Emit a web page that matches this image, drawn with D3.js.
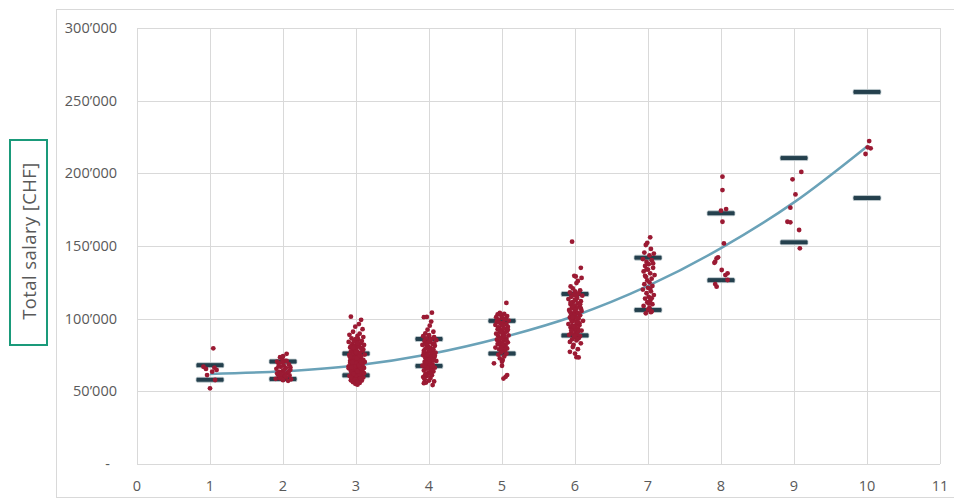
<!DOCTYPE html>
<html>
<head>
<meta charset="utf-8">
<script src="https://cdn.jsdelivr.net/npm/d3@7"></script>
<style>
  body { margin: 0; background: #fff; }
  svg { display: block; font-family: "Open Sans", sans-serif; }
</style>
</head>
<body>
<svg id="chart" width="954" height="501"></svg>
<script>
// salary level (x) and band values in thousand CHF
const levels = [1, 2, 3, 4, 5, 6, 7, 8, 9, 10];
const bandUpper = [68, 70.5, 76, 86, 98.5, 117, 142, 172.5, 210.5, 256];
const bandLower = [58, 58.5, 61, 67.5, 76, 88.5, 106, 126.5, 152.5, 183];
const trend = [62, 63.8, 67.8, 75.5, 87, 102, 122.5, 148.5, 180, 218.5];
const xTicks = [0, 1, 2, 3, 4, 5, 6, 7, 8, 9, 10, 11];
const yTicks = [0, 50, 100, 150, 200, 250, 300];

// employees: [level incl. jitter, salary k CHF]
const lvl1 = [[0.91,66.9],[0.945,65.4],[1.06,66.3],[1.09,64.7],[0.96,61.2],[1.07,57.8],[1.0,52.1],[1.045,79.6],[1.03,63.5]];
const lvl2 = [[1.92,70.5],[1.96,73.5],[2.05,75.8],[1.99,72.2],[2.03,71.0],[1.94,69.4],[2.08,68.6],[2.01,67.8],[1.97,66.9],[2.04,66.2],
  [1.91,65.5],[2.1,64.8],[2.0,64.1],[1.95,63.3],[2.06,62.7],[2.02,62.0],[1.93,61.4],[2.09,60.9],[1.98,60.2],[2.04,59.6],
  [1.96,59.0],[2.11,58.3],[2.0,57.7],[1.9,58.6],[2.07,57.2],[1.99,69.9],[2.05,70.9],[1.94,67.3],[2.02,65.0],[2.08,63.8],
  [1.97,61.8],[2.03,60.5],[1.92,62.4],[2.1,66.6],[2.0,74.2]];
const lvl3 = [[2.93,101.4],[3.07,99.2],[3.04,96.3],[2.99,94.5],[3.09,92.8],[2.96,91.0],[3.05,89.7],[2.91,88.9],[3.02,88.1],[3.1,87.3],
  [2.94,86.5],[3.03,85.9],[2.98,85.2],[3.08,84.6],[2.9,84.0],[3.01,83.5],[3.06,83.0],[2.95,82.4],[3.11,81.9],[2.99,81.3],
  [3.04,80.8],[2.92,80.2],[3.07,79.7],[3.0,79.1],[2.96,78.6],[3.09,78.0],[2.93,77.5],[3.02,77.0],[3.05,76.4],[2.97,75.9],
  [3.12,75.3],[2.91,74.8],[3.0,74.3],[3.06,73.7],[2.95,73.2],[3.03,72.6],[2.99,72.1],[3.1,71.6],[2.92,71.0],[3.04,70.5],
  [2.97,69.9],[3.08,69.4],[3.01,68.9],[2.94,68.3],[3.06,67.8],[2.9,67.2],[3.02,66.7],[3.11,66.1],[2.96,65.6],[3.0,65.1],
  [3.05,64.5],[2.93,64.0],[3.09,63.4],[2.98,62.9],[3.03,62.3],[2.95,61.8],[3.07,61.3],[2.91,60.7],[3.01,60.2],[3.1,59.6],
  [2.97,59.1],[3.04,58.5],[2.94,58.0],[3.08,57.4],[3.0,56.9],[2.96,56.3],[3.05,55.8],[2.99,55.2],[3.02,54.6],[2.93,57.6],
  [3.0,86.0],[2.97,84.3],[3.05,82.8],[2.93,81.0],[3.08,79.4],[3.01,77.8],[2.95,76.2],[3.06,74.6],[2.98,73.0],[3.03,71.3],
  [2.92,69.7],[3.09,68.1],[3.0,66.4],[2.96,64.8],[3.04,63.2],[2.94,61.6],[3.07,60.0],[2.99,58.4],[3.02,56.8],[3.11,62.5],
  [2.9,65.9],[3.12,70.2],[2.91,75.0],[3.1,78.8],[2.98,80.5],[3.03,67.5],[2.95,72.4],[3.06,58.9],[3.0,61.0],[2.97,70.8],
  [3.04,75.6],[3.01,64.2],[2.96,68.6],[3.07,73.9],[2.93,59.8],[3.02,83.1],[3.09,65.3],[2.99,77.1],[3.05,71.9],[2.94,63.7],
  [3.0,69.2],[2.98,66.9],[3.03,74.0],[2.95,70.0],[3.06,66.0],[3.01,72.8],[2.97,62.0],[3.04,68.0],[2.92,73.5],[3.08,71.0],
  [3.0,76.8],[2.96,79.9],[3.05,61.8],[3.02,63.9],[2.94,66.5],[3.07,69.7]];
const lvl4 = [[3.93,101.0],[3.97,101.2],[4.04,104.1],[4.03,98.0],[4.01,95.2],[3.98,92.4],[4.06,91.0],[3.95,89.8],
  [4.0,88.6],[3.92,87.9],[4.07,87.2],[3.96,86.5],[4.03,85.9],[4.1,85.2],[3.94,84.5],[4.01,83.9],[3.98,83.2],[4.05,82.6],
  [3.91,81.9],[4.08,81.3],[3.99,80.6],[4.02,79.9],[3.95,79.3],[4.06,78.7],[3.93,78.0],[4.0,77.4],[4.09,76.7],[3.97,76.1],
  [4.04,75.4],[3.92,74.8],[4.01,74.1],[4.07,73.5],[3.96,72.8],[4.03,72.2],[3.99,71.5],[4.1,70.9],[3.94,70.2],[4.02,69.6],
  [3.98,68.9],[4.05,68.3],[3.91,67.6],[4.0,67.0],[4.08,66.3],[3.96,65.7],[4.03,65.0],[3.93,64.4],[4.06,63.7],[3.99,63.1],
  [4.01,62.4],[3.95,61.8],[4.04,61.1],[3.97,60.5],[3.92,59.8],[4.02,59.2],[3.94,58.3],[4.0,57.4],[3.96,56.0],[3.93,55.6],
  [4.05,54.3],[4.07,56.8],[4.0,84.0],[3.97,80.0],[4.04,77.0],[3.95,73.0],[4.06,71.2],[4.01,69.0],[3.98,66.0],[4.03,64.0],
  [3.93,76.5],[4.08,74.5],[3.99,72.0],[4.02,86.0],[3.96,82.3],[4.05,79.0],[4.0,70.5],[3.94,68.0],[4.07,83.0],[3.98,75.0],
  [4.03,62.0],[4.01,78.0],[3.96,69.8],[4.04,67.3]];
const lvl5 = [[5.06,110.8],[4.97,104.0],[4.94,102.9],[5.03,103.3],[4.99,102.4],[5.07,101.8],[4.92,101.0],
  [5.0,100.5],[5.05,99.9],[4.95,99.3],[5.09,98.7],[4.93,98.1],[5.02,97.5],[4.98,96.9],[5.06,96.3],[4.91,95.7],[5.01,95.1],
  [5.08,94.5],[4.96,93.9],[5.03,93.3],[4.94,92.7],[5.0,92.1],[5.07,91.5],[4.97,90.9],[5.04,90.3],[4.92,89.7],[5.01,89.1],
  [5.09,88.5],[4.95,87.9],[5.02,87.3],[4.99,86.7],[5.06,86.1],[4.93,85.5],[5.03,84.9],[4.97,84.3],[5.08,83.7],[5.0,83.1],
  [4.94,82.5],[5.05,81.9],[4.98,81.3],[5.02,80.7],[4.91,80.1],[5.07,79.5],[4.96,78.9],[5.04,78.3],[5.0,77.7],[4.99,76.9],
  [5.06,76.0],[4.95,75.2],[5.03,74.0],[4.97,72.7],[5.01,71.5],[4.89,69.3],[5.0,70.4],[5.0,67.6],[5.07,61.2],[5.05,60.0],
  [5.02,58.8],[5.0,96.0],[4.98,91.0],[5.03,88.0],[4.95,94.0],[5.06,85.0],[5.01,82.0],[4.96,97.4],[5.04,100.0],[4.99,79.8],
  [5.08,92.5]];
const lvl6 = [[5.96,153.0],[6.08,135.0],[5.99,129.5],[6.01,129.0],[6.09,128.0],[6.04,126.0],[5.94,122.2],[6.02,124.5],[5.97,120.8],[6.07,119.5],
  [6.0,118.8],[5.93,118.0],[6.05,117.3],[5.98,116.5],[6.1,115.8],[5.95,115.0],[6.03,114.3],[5.91,113.5],[6.01,112.8],[6.08,112.0],
  [5.97,111.3],[6.04,110.5],[5.94,109.8],[6.0,109.0],[6.06,108.3],[5.96,107.5],[6.02,106.8],[5.92,106.0],[6.09,105.3],[5.99,104.5],
  [6.03,103.8],[5.95,103.0],[6.07,102.3],[6.0,101.5],[5.93,100.8],[6.05,100.0],[5.98,99.3],[6.11,98.5],[5.96,97.8],[6.02,97.0],
  [5.91,96.3],[6.06,95.5],[6.0,94.8],[5.94,94.0],[6.04,93.3],[5.97,92.5],[6.09,91.8],[6.01,91.0],[5.95,90.3],[6.03,89.5],
  [5.92,88.8],[6.07,88.0],[5.99,87.3],[6.05,86.5],[5.96,85.8],[6.02,85.0],[5.93,84.0],[6.08,83.0],[5.98,82.0],[5.97,80.5],
  [5.93,77.2],[6.02,73.5],[6.05,73.3],[6.0,76.0],[6.04,79.0],[6.0,113.0],[5.97,108.0],[6.04,104.0],[5.95,99.0],[6.06,96.8],
  [6.01,93.0],[5.98,89.0],[6.03,86.0],[5.94,111.0],[6.08,107.0],[5.99,102.0],[6.02,98.0],[5.96,95.0],[6.05,91.5],[6.0,88.2],
  [5.93,104.8],[6.07,110.0],[6.01,116.0],[5.97,101.0],[6.04,97.5],[5.95,92.0],[6.03,100.5],[6.0,106.0],[5.98,94.5]];
const lvl7 = [[7.03,156.0],[6.99,152.2],[6.97,150.7],[7.04,148.0],[6.95,145.5],[7.08,144.8],[7.02,143.6],[6.93,141.0],[7.05,140.2],[6.98,139.0],
  [7.01,137.5],[6.96,136.3],[7.07,135.0],[7.0,133.8],[6.94,132.5],[7.03,131.2],[7.09,130.0],[6.97,128.8],[7.05,127.5],[6.99,126.3],
  [7.02,125.0],[6.95,123.7],[7.06,122.5],[7.0,121.2],[6.93,120.0],[7.04,118.8],[6.98,117.5],[7.08,116.2],[7.01,115.0],[6.96,113.8],
  [7.03,112.5],[6.99,111.3],[7.06,110.0],[6.94,108.8],[7.02,107.6],[7.0,106.2],[7.05,105.0],[6.97,103.7],[7.04,104.5],[7.07,138.0],
  [6.96,129.5],[7.03,120.5],[6.98,134.0],[7.05,114.0],[7.01,110.5]];
const lvl8 = [[8.02,197.7],[8.02,188.5],[8.0,174.3],[8.07,175.4],[8.02,166.7],[8.04,151.8],[7.94,141.5],[7.92,139.2],
  [7.91,138.4],[7.96,142.2],[8.01,133.5],[8.09,131.2],[8.06,130.0],[8.09,126.6],[7.92,123.8],[7.94,122.0]];
const lvl9 = [[9.1,201.0],[8.98,195.9],[9.02,185.5],[8.95,176.4],[8.91,166.7],[8.95,166.3],[9.07,161.0],[9.08,148.4]];
const lvl10 = [[10.03,222.2],[10.01,217.9],[10.05,217.2],[9.98,213.3]];

const employees = [].concat(lvl1, lvl2, lvl3, lvl4, lvl5, lvl6, lvl7, lvl8, lvl9, lvl10);

const svg = d3.select("#chart");

const x = d3.scaleLinear().domain([0, 11]).range([137, 940]);
const y = d3.scaleLinear().domain([0, 300]).range([464, 28]);

// outer chart frame
svg.append("rect")
  .attr("x", 56.5).attr("y", 9.5)
  .attr("width", 920).attr("height", 488)
  .attr("fill", "none")
  .attr("stroke", "#d9d9d9");

// grid
svg.append("g")
  .selectAll("line")
  .data(yTicks)
  .join("line")
  .attr("x1", x(0)).attr("x2", x(11))
  .attr("y1", d => Math.round(y(d)) + 0.5).attr("y2", d => Math.round(y(d)) + 0.5)
  .attr("stroke", "#d9d9d9");

svg.append("g")
  .selectAll("line")
  .data(xTicks)
  .join("line")
  .attr("x1", d => Math.round(x(d)) + 0.5).attr("x2", d => Math.round(x(d)) + 0.5)
  .attr("y1", y(0)).attr("y2", y(300))
  .attr("stroke", "#d9d9d9");

// tick labels
const fmt = d => d === 0 ? "-" : d3.format(",")(d * 1000).replace(/,/g, "\u2019");

svg.append("g")
  .selectAll("text")
  .data(yTicks)
  .join("text")
  .attr("x", d => d === 0 ? 110 : 117)
  .attr("y", d => y(d))
  .attr("dy", "0.35em")
  .attr("text-anchor", "end")
  .attr("fill", "#595959")
  .style("font-size", "14.5px")
  .text(fmt);

svg.append("g")
  .selectAll("text")
  .data(xTicks)
  .join("text")
  .attr("x", d => x(d))
  .attr("y", 486)
  .attr("dy", "0.35em")
  .attr("text-anchor", "middle")
  .attr("fill", "#595959")
  .style("font-size", "14.5px")
  .text(d => d);

// y title in green box
svg.append("rect")
  .attr("x", 10).attr("y", 140)
  .attr("width", 37).attr("height", 205)
  .attr("fill", "none")
  .attr("stroke", "#1a9a7a")
  .attr("stroke-width", 2);

svg.append("text")
  .attr("transform", "translate(30,241) rotate(-90)")
  .attr("dy", "0.35em")
  .attr("text-anchor", "middle")
  .attr("fill", "#595959")
  .style("font-size", "18.5px")
  .style("letter-spacing", "0.4px")
  .text("Total salary [CHF]");

// salary band markers
const bands = levels.flatMap((l, i) => [[l, bandUpper[i]], [l, bandLower[i]]]);

svg.append("g")
  .selectAll("rect")
  .data(bands)
  .join("rect")
  .attr("x", d => x(d[0]) - 14)
  .attr("y", d => y(d[1]) - 2.5)
  .attr("width", 28)
  .attr("height", 5)
  .attr("rx", 1.5)
  .attr("fill", "#24404d")
  .attr("stroke", "#c8d2d6")
  .attr("stroke-width", 0.8);

// trend line
const line = d3.line()
  .x((d, i) => x(levels[i]))
  .y(d => y(d))
  .curve(d3.curveMonotoneX);

svg.append("path")
  .datum(trend)
  .attr("fill", "none")
  .attr("stroke", "#6aa2b8")
  .attr("stroke-width", 2.5)
  .attr("d", line);

// employees
svg.append("g")
  .selectAll("circle")
  .data(employees)
  .join("circle")
  .attr("cx", d => x(d[0]))
  .attr("cy", d => y(d[1]))
  .attr("r", 2.4)
  .attr("fill", "#9b1a33");
</script>
</body>
</html>
